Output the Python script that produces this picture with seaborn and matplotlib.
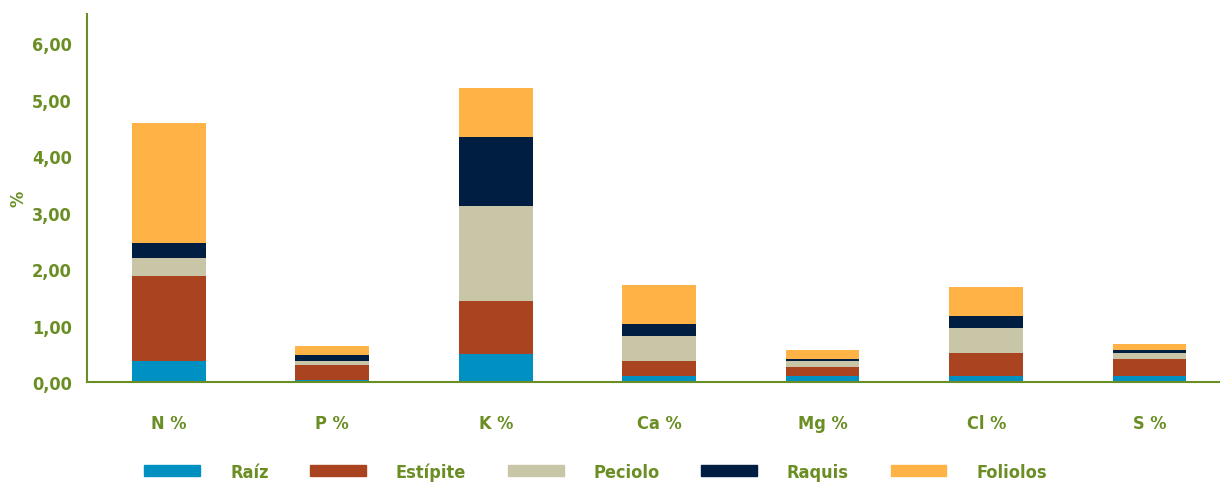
#!/usr/bin/env python3

import matplotlib
import numpy as np
import pandas as pd
import seaborn as sns

matplotlib.use("Agg")
import matplotlib.patches as mpatches
import matplotlib.pyplot as plt
from matplotlib.ticker import FuncFormatter

# Data.
nutrients = ["N %", "P %", "K %", "Ca %", "Mg %", "Cl %", "S %"]
organs = ["Raíz", "Estípite", "Peciolo", "Raquis", "Foliolos"]
raiz = [0.37, 0.035, 0.49, 0.10, 0.10, 0.11, 0.11]
estipite = [1.50, 0.27, 0.95, 0.27, 0.17, 0.40, 0.30]
peciolo = [0.32, 0.075, 1.68, 0.45, 0.11, 0.45, 0.10]
raquis = [0.27, 0.095, 1.22, 0.21, 0.03, 0.21, 0.06]
foliolos = [2.12, 0.16, 0.87, 0.68, 0.16, 0.51, 0.10]

colors = ["#0090C1", "#AA4420", "#C9C5A7", "#001E42", "#FFB347"]
green = "#6A8E23"

sns.set_style("white")
plt.rcParams["font.family"] = ["DejaVu Sans"]
plt.rcParams["font.stretch"] = "condensed"
plt.rcParams["font.weight"] = "bold"

df = pd.DataFrame(
    {"nutrient": nutrients, "Raíz": raiz, "Estípite": estipite,
     "Peciolo": peciolo, "Raquis": raquis, "Foliolos": foliolos}
)
cum = df[organs].cumsum(axis=1)

fig = plt.figure(figsize=(12.2, 4.85), dpi=100)
ax = fig.add_axes([0.0713, 0.2103, 0.9287, 0.7588])

# Stacked bars: draw cumulative totals from top layer down.
for organ, color in reversed(list(zip(organs, colors))):
    sns.barplot(
        x=df["nutrient"], y=cum[organ], color=color, width=0.45,
        ax=ax, saturation=1, linewidth=0,
    )

ax.set_xlim(-0.5, 6.43)
ax.set_ylim(0, 6.52)
ax.set_yticks(np.arange(0, 7, 1))
ax.yaxis.set_major_formatter(FuncFormatter(lambda v, p: f"{v:.2f}".replace(".", ",")))

for side in ["top", "right"]:
    ax.spines[side].set_visible(False)
for side in ["left", "bottom"]:
    ax.spines[side].set_color(green)
    ax.spines[side].set_linewidth(1.5)

ax.tick_params(axis="both", length=0, labelcolor=green, labelsize=13)
ax.tick_params(axis="x", pad=23)
ax.tick_params(axis="y", pad=11)
for lbl in ax.get_xticklabels() + ax.get_yticklabels():
    lbl.set_fontweight("bold")

ax.set_xlabel("")
ax.set_ylabel("%", color=green, fontsize=13, fontweight="bold", labelpad=3)

handles = [mpatches.Patch(color=c, label=o) for o, c in zip(organs, colors)]
leg = fig.legend(
    handles=handles, ncol=5, loc="lower left", bbox_to_anchor=(0.105, -0.027),
    frameon=False, handlelength=3.1, handleheight=0.6, handletextpad=1.65,
    columnspacing=2.3, prop={"size": 13, "weight": "bold"},
)
for t in leg.get_texts():
    t.set_color(green)

plt.savefig("out.png", dpi=100)
plt.close()
